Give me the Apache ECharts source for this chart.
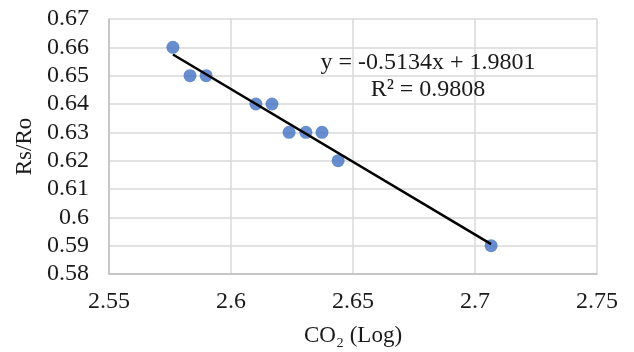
<!DOCTYPE html>
<html>
<head>
<meta charset="utf-8">
<script src="https://cdn.jsdelivr.net/npm/echarts@6/dist/echarts.min.js"></script>
<style>
  html, body { margin: 0; padding: 0; background: #fff; }
  #chart { width: 634px; height: 352px; }
</style>
</head>
<body>
<div id="chart"></div>
<script>
// data
const co2Log = [2.5762, 2.5832, 2.5898, 2.6102, 2.6168, 2.6238, 2.6307, 2.6373, 2.6439, 2.7066];
const rsRo = [0.66, 0.65, 0.65, 0.64, 0.64, 0.63, 0.63, 0.63, 0.62, 0.59];
const slope = -0.5134;
const intercept = 1.9801;
const equationLines = ['y = -0.5134x + 1.9801', 'R² = 0.9808'];

const points = co2Log.map((x, i) => [x, rsRo[i]]);
const xMin = Math.min(...co2Log);
const xMax = Math.max(...co2Log);
const trend = [[xMin, slope * xMin + intercept], [xMax, slope * xMax + intercept]];

const chart = echarts.init(document.getElementById('chart'));
const font = '"Liberation Serif", "Times New Roman", serif';
const textColor = '#1a1a1a';

chart.setOption({
  animation: false,
  textStyle: { fontFamily: font },
  grid: { left: 109, right: 37, top: 19, bottom: 77, containLabel: false },
  xAxis: {
    type: 'value',
    min: 2.55, max: 2.75, interval: 0.05,
    name: 'CO₂ (Log)',
    nameLocation: 'middle',
    nameGap: 50,
    nameTextStyle: { fontFamily: font, fontSize: 23, color: textColor },
    axisLine: { show: true, lineStyle: { color: '#bfbfbf', width: 1.5 } },
    axisTick: { show: false },
    axisLabel: { fontFamily: font, fontSize: 24, color: textColor, margin: 16,
      formatter: v => String(parseFloat(v.toFixed(2))) },
    splitLine: { show: true, lineStyle: { color: '#d9d9d9', width: 1.5 } }
  },
  yAxis: {
    type: 'value',
    min: 0.58, max: 0.67, interval: 0.01,
    name: 'Rs/Ro',
    nameLocation: 'middle',
    nameGap: 71,
    nameRotate: 90,
    nameTextStyle: { fontFamily: font, fontSize: 23, color: textColor },
    axisLine: { show: true, lineStyle: { color: '#bfbfbf', width: 1.5 } },
    axisTick: { show: false },
    axisLabel: { fontFamily: font, fontSize: 24, color: textColor, margin: 20,
      formatter: v => String(parseFloat(v.toFixed(2))) },
    splitLine: { show: true, lineStyle: { color: '#d9d9d9', width: 1.5 } }
  },
  graphic: equationLines.map((line, i) => ({
    type: 'text',
    x: 428,
    y: 63 + i * 27,
    z: 10,
    style: {
      text: line,
      fontFamily: font,
      fontSize: 24,
      fill: textColor,
      align: 'center',
      verticalAlign: 'middle'
    }
  })),
  series: [
    {
      type: 'scatter',
      data: points,
      symbolSize: 13,
      itemStyle: { color: '#4472C4' },
      z: 2
    },
    {
      type: 'line',
      data: trend,
      symbol: 'none',
      lineStyle: { color: '#000', width: 2.5 },
      z: 3
    }
  ]
});
</script>
</body>
</html>
